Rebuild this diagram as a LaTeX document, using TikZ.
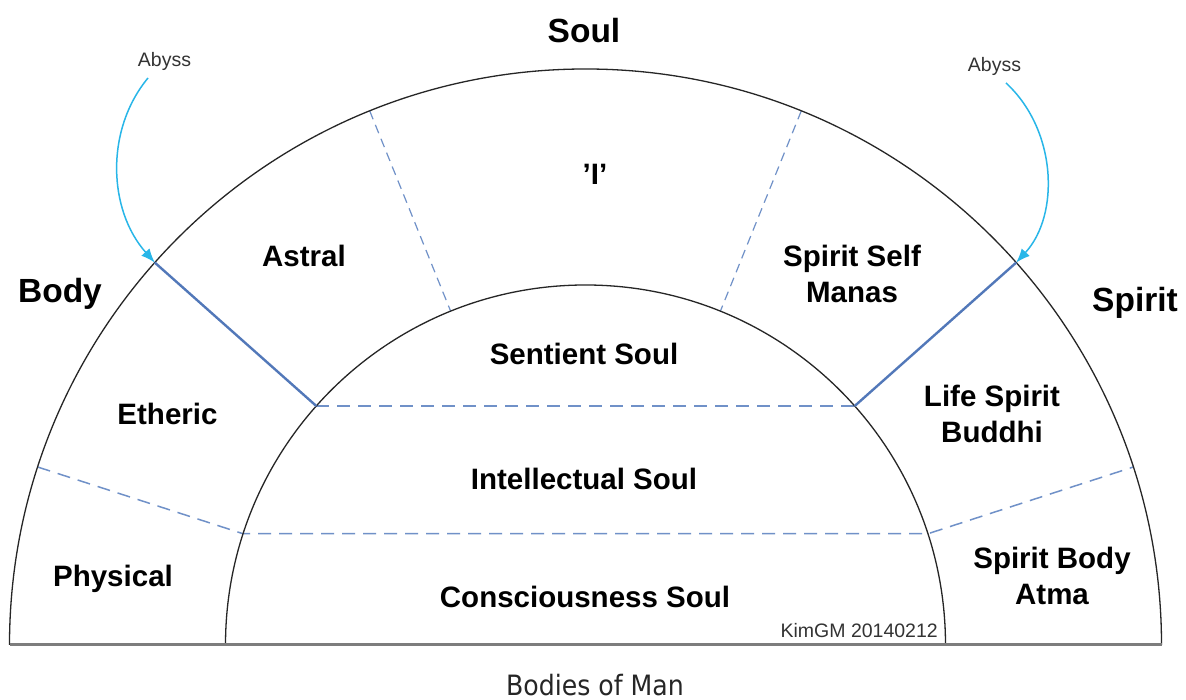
\documentclass[tikz,border=0pt]{standalone}
\usepackage{fontspec}
\setmainfont{Liberation Sans}
\newfontfamily\capfont[FakeStretch=0.9]{DejaVu Sans}
\usetikzlibrary{arrows.meta}
\definecolor{dashblue}{RGB}{112,145,200}
\definecolor{solidblue}{RGB}{82,120,185}
\definecolor{abysscyan}{RGB}{40,182,232}
\definecolor{basegray}{RGB}{125,125,125}
\begin{document}
\begin{tikzpicture}[x=1pt,y=1pt,
  arcline/.style={draw=black!85, line width=1.3pt},
  baseline/.style={draw=basegray, line width=3pt},
  divsolid/.style={draw=solidblue, line width=2.4pt},
  divdash/.style={draw=dashblue, line width=1.5pt, dash pattern=on 13pt off 8pt},
  divdashfine/.style={draw=dashblue, line width=1.2pt, dash pattern=on 9pt off 6pt},
  bigtext/.style={font=\fontsize{33.5}{40}\selectfont\bfseries, anchor=base, inner sep=0pt},
  parttext/.style={font=\fontsize{29.5}{36}\selectfont\bfseries, anchor=base, inner sep=0pt},
  abysstext/.style={font=\fontsize{19.5}{24}\selectfont, text=black!80, anchor=base, inner sep=0pt},
  signtext/.style={font=\fontsize{19.5}{24}\selectfont, text=black!80, anchor=base east, inner sep=0pt},
  captext/.style={font=\capfont\fontsize{28}{34}\selectfont, text=black!85, anchor=base, inner sep=0pt},
  abyssarrow/.style={draw=abysscyan, line width=1.5pt, -{Latex[length=14pt,width=11pt]}},
]
\useasboundingbox (0,0) rectangle (1186,700);
\fill[white] (0,0) rectangle (1186,700);

% geometry
\coordinate (C) at (585.5,55);
\coordinate (bl) at (9.5,55);
\coordinate (br) at (1161.5,55);
\path (C) ++(138.4:576) coordinate (oL)  (C) ++(138.4:360) coordinate (iL);
\path (C) ++(41.6:576)  coordinate (oR)  (C) ++(41.6:360)  coordinate (iR);
\path (C) ++(162:576)   coordinate (oL2) (C) ++(162:360)   coordinate (iL2);
\path (C) ++(18:576)    coordinate (oR2) (C) ++(18:360)    coordinate (iR2);
\path (C) ++(112:576)   coordinate (oT1) (C) ++(112:360)   coordinate (iT1);
\path (C) ++(68:576)    coordinate (oT2) (C) ++(68:360)    coordinate (iT2);

% dashed dividers
\draw[divdashfine] (oT1) -- (iT1);
\draw[divdashfine] (oT2) -- (iT2);
\draw[divdash] (oL2) -- (iL2) -- (iR2) -- (oR2);
\draw[divdash] (iL) -- (iR);

% arcs and base
\draw[arcline] (C) ++(0:576) arc[start angle=0, end angle=180, radius=576pt];
\draw[arcline] (C) ++(0:360) arc[start angle=0, end angle=180, radius=360pt];
\draw[baseline] (bl) -- (br);

% solid dividers
\draw[divsolid] (oL) -- (iL);
\draw[divsolid] (oR) -- (iR);

% abyss arrows
\node[abysstext] (abL) at (164.5,633) {Abyss};
\node[abysstext] (abR) at (994.5,628) {Abyss};
\coordinate (abLs) at (148,622);
\coordinate (abRs) at (1006,617);
\draw[abyssarrow] (abLs) .. controls (105,570) and (108,490) .. (oL);
\draw[abyssarrow] (abRs) .. controls (1057,570) and (1060,485) .. (oR);

% headings
\node[bigtext] (soul) at (584,657) {Soul};
\node[bigtext] (body) at (60,397) {Body};
\node[bigtext] (spirit) at (1135,388) {Spirit};

% parts
\node[parttext] (ich) at (595,515) {’I’};
\node[parttext] (astral) at (304,433) {Astral};
\node[parttext] (ss1) at (852,433) {Spirit Self};
\node[parttext] (ss2) at (852,397) {Manas};
\node[parttext] (sent) at (584,335) {Sentient Soul};
\node[parttext] (eth) at (167.5,275) {Etheric};
\node[parttext] (ls1) at (992,293) {Life Spirit};
\node[parttext] (ls2) at (992,257) {Buddhi};
\node[parttext] (intel) at (584,210) {Intellectual Soul};
\node[parttext] (phys) at (113,113) {Physical};
\node[parttext] (cons) at (585,92) {Consciousness Soul};
\node[parttext] (sb1) at (1052,131) {Spirit Body};
\node[parttext] (sb2) at (1052,95) {Atma};

\node[signtext] (sign) at (938,62) {KimGM 20140212};
\node[captext] (cap) at (595,4.5) {Bodies of Man};
\end{tikzpicture}
\end{document}
